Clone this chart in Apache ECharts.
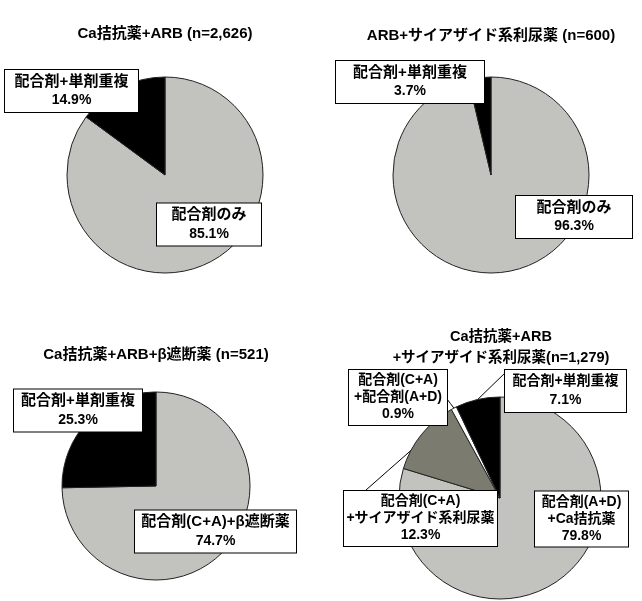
<!DOCTYPE html>
<html><head><meta charset="utf-8">
<script src="https://cdn.jsdelivr.net/npm/echarts@6/dist/echarts.min.js"></script>
<style>html,body{margin:0;padding:0;background:#fff}#c{width:642px;height:601px}</style>
</head><body><div id="c"></div>
<script>
// ---- data ----
const titles = ['Ca拮抗薬+ARB (n=2,626)', 'ARB+サイアザイド系利尿薬 (n=600)', 'Ca拮抗薬+ARB+β遮断薬 (n=521)', 'Ca拮抗薬+ARB\n+サイアザイド系利尿薬(n=1,279)'];
const names1 = ['配合剤のみ', '配合剤+単剤重複'];
const values1 = [85.1, 14.9];
const names2 = ['配合剤のみ', '配合剤+単剤重複'];
const values2 = [96.3, 3.7];
const names3 = ['配合剤(C+A)+β遮断薬', '配合剤+単剤重複'];
const values3 = [74.7, 25.3];
const names4 = ['配合剤(A+D)\n+Ca拮抗薬', '配合剤(C+A)\n+サイアザイド系利尿薬', '配合剤(C+A)\n+配合剤(A+D)', '配合剤+単剤重複'];
const values4 = [79.8, 12.3, 0.9, 7.1];

// ---- styles / layout ----
const GRAY = '#c2c2be', BLACK = '#000000', DARK = '#7b7c6f', WHITE = '#ffffff';
const FONT = "'Liberation Sans', Arial, 'Noto Sans CJK JP', sans-serif";
const cfgs = [
  {names: names1, values: values1, colors: [GRAY, BLACK], center: [165, 175], r: 98, tx: 165, ty: 23, tfs: 15, nfs: 15, vfs: 14,
   boxes: [{cx: 209, cy: 224.5, w: 106, lh: 19}, {cx: 71.5, cy: 91, w: 135, lh: 19}]},
  {names: names2, values: values2, colors: [GRAY, BLACK], center: [491, 175], r: 98, tx: 491, ty: 25, tfs: 15, nfs: 15, vfs: 14,
   boxes: [{cx: 574, cy: 217, w: 118, lh: 19}, {cx: 410, cy: 82, w: 150, lh: 19}]},
  {names: names3, values: values3, colors: [GRAY, BLACK], center: [156, 486], r: 94, tx: 156, ty: 344, tfs: 15, nfs: 15, vfs: 14,
   boxes: [{cx: 215.5, cy: 531.5, w: 163, lh: 19}, {cx: 78, cy: 410.5, w: 130, lh: 19}]},
  {names: names4, values: values4, colors: [GRAY, DARK, WHITE, BLACK], center: [500, 498], r: 101, tx: 501, ty: 326, tfs: 14.5, nfs: 14, vfs: 14,
   boxes: [{cx: 581.5, cy: 519, w: 95, lh: 17},
           {cx: 420.5, cy: 518.5, w: 155, lh: 17, end: [366, 490], anchorFrac: 0.25},
           {cx: 398, cy: 397.5, w: 100, lh: 17, end: [447, 399]},
           {cx: 565.5, cy: 391, w: 123, lh: 19, end: [506, 372]}]}
];

function build(cfg, idx) {
  const total = cfg.values.reduce((a, b) => a + b, 0);
  let acc = 0;
  const anchors = cfg.values.map((v, i) => {
    const f = cfg.boxes[i].anchorFrac != null ? cfg.boxes[i].anchorFrac : 0.5;
    const m = (acc + v * f) / total; acc += v;
    const th = m * 2 * Math.PI;
    return [cfg.center[0] + cfg.r * Math.sin(th), cfg.center[1] - cfg.r * Math.cos(th)];
  });
  return {
    type: 'pie', center: cfg.center, radius: cfg.r, startAngle: 90, clockwise: true,
    animation: false, silent: true, avoidLabelOverlap: false,
    itemStyle: {borderColor: '#222', borderWidth: 1},
    label: {show: true, position: 'outside', overflow: 'none',
      formatter: p => p.name.split('\n').map(s => '{n|' + s + '}').join('\n') + '\n{v|' + Number(p.value).toFixed(1) + '%}',
      color: '#000', fontFamily: FONT, fontWeight: 'bold', fontSize: 14,
      backgroundColor: '#fff', borderColor: '#000', borderWidth: 1, align: 'center'},
    labelLine: {show: false, lineStyle: {color: '#000', width: 1}},
    emphasis: {disabled: true},
    data: cfg.values.map((v, i) => {
      const lh = cfg.boxes[i].lh;
      return {
        value: v, name: cfg.names[i], itemStyle: {color: cfg.colors[i]},
        label: {width: cfg.boxes[i].w - 2, lineHeight: lh, padding: [2, 0], overflow: 'none',
          rich: {
            n: {fontFamily: FONT, fontWeight: 'bold', fontSize: cfg.nfs, color: '#000', lineHeight: lh, align: 'center'},
            v: {fontFamily: FONT, fontWeight: 'bold', fontSize: cfg.vfs, color: '#000', lineHeight: lh, align: 'center'}
          }},
        labelLine: {show: !!cfg.boxes[i].end}
      };
    }),
    labelLayout: p => {
      const b = cfg.boxes[p.dataIndex];
      const o = {x: b.cx, y: b.cy, align: 'center', verticalAlign: 'middle'};
      if (b.end) {
        const a = anchors[p.dataIndex];
        o.labelLinePoints = [a, [(a[0] + b.end[0]) / 2, (a[1] + b.end[1]) / 2], b.end];
      }
      return o;
    }
  };
}

const chart = echarts.init(document.getElementById('c'));
chart.setOption({
  animation: false,
  backgroundColor: '#fff',
  title: cfgs.map((c, i) => ({
    text: titles[i], left: c.tx, top: c.ty, textAlign: 'center', padding: 0,
    textStyle: {fontFamily: FONT, fontSize: c.tfs, fontWeight: 'bold', color: '#000', lineHeight: 21}
  })),
  series: cfgs.map(build)
});
</script>
</body></html>
